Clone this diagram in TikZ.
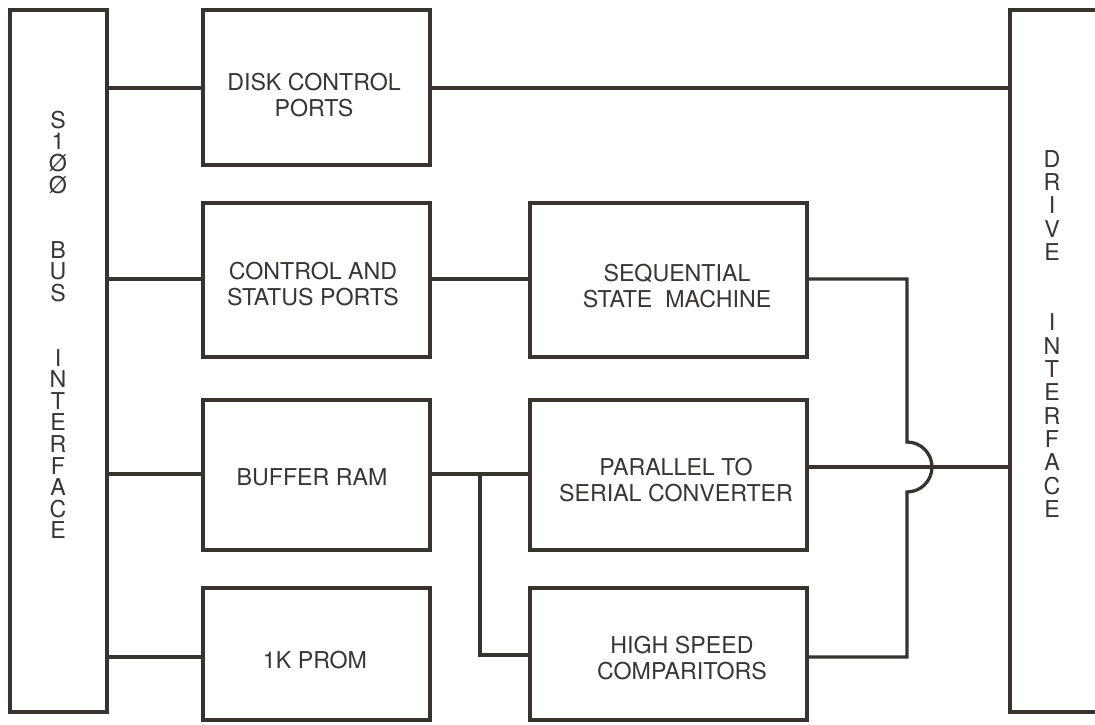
\documentclass[tikz,border=0pt]{standalone}
\usepackage{fontspec}
\setmainfont{TeX Gyre Heros}
\usetikzlibrary{fit}
\definecolor{ink}{HTML}{38332F}
\definecolor{txtc}{HTML}{3A3531}
\begin{document}
\begin{tikzpicture}[x=0.02cm,y=-0.02cm,
  blk/.style={draw=ink, line width=1.85pt, inner sep=0pt, outer sep=0pt},
  wire/.style={draw=ink, line width=1.85pt},
  txt/.style={text=txtc, align=center, inner sep=0pt, font=\fontsize{13.2}{15.3}\selectfont},
  vtxt/.style={text=txtc, align=center, inner sep=0pt}]
\clip (0,0) rectangle (1095,724);
\fill[white] (0,0) rectangle (1095,724);
% boxes
\node[blk, fit={(10,10) (107,712)}] (bus) {};
\node[blk, fit={(1010,10) (1140,712)}] (drive) {};
\node[blk, fit={(203,10) (430,165)}] (disk) {};
\node[blk, fit={(203,203) (430,357)}] (ctrl) {};
\node[blk, fit={(203,400) (430,550)}] (buf) {};
\node[blk, fit={(203,588) (430,720)}] (prom) {};
\node[blk, fit={(530,203) (807,357)}] (seq) {};
\node[blk, fit={(530,400) (807,550)}] (par) {};
\node[blk, fit={(530,588) (807,720)}] (hsc) {};
% texts
\node[vtxt, font=\fontsize{13.2}{12.3}\selectfont] (busT) at (58,325)
  {S\\1\\Ø\\Ø\\[24.6pt]B\\U\\S\\[24.6pt]I\\N\\T\\E\\R\\F\\A\\C\\E};
\node[vtxt, font=\fontsize{13.2}{13.3}\selectfont] (driveT) at (1052,334)
  {D\\R\\I\\V\\E\\[26.6pt]I\\N\\T\\E\\R\\F\\A\\C\\E};
\node[txt] (diskT) at (314,95) {DISK CONTROL\\PORTS};
\node[txt] (ctrlT) at (313,284) {CONTROL AND\\STATUS PORTS};
\node[txt] (bufT) at (312,477) {BUFFER RAM};
\node[txt] (promT) at (315,660) {1K PROM};
\node[txt] (seqT) at (677,286) {SEQUENTIAL\\STATE\ \ MACHINE};
\node[txt] (parT) at (676,480) {PARALLEL TO\\SERIAL CONVERTER};
\node[txt] (hscT) at (682,658) {HIGH SPEED\\COMPARITORS};
% helper coordinates
\coordinate (y1) at (0,88);
\coordinate (y2) at (0,279);
\coordinate (y3) at (0,474);
\coordinate (y4) at (0,657);
\coordinate (yP) at (0,467);
\coordinate (yH) at (0,655);
\coordinate (bx) at (480,0);
\coordinate (hopT) at (907,442);
% connectors
\draw[wire] (bus.east |- y1) -- (disk.west |- y1);
\draw[wire] (disk.east |- y1) -- (drive.west |- y1);
\draw[wire] (bus.east |- y2) -- (ctrl.west |- y2);
\draw[wire] (ctrl.east |- y2) -- (seq.west |- y2);
\draw[wire] (bus.east |- y3) -- (buf.west |- y3);
\draw[wire] (buf.east |- y3) -- (par.west |- y3);
\draw[wire] (bus.east |- y4) -- (prom.west |- y4);
\draw[wire] (par.east |- yP) -- (drive.west |- yP);
\draw[wire] (bx |- y3) -- (bx |- yH) -- (hsc.west |- yH);
\draw[wire] (seq.east |- y2) -| (hopT) arc[start angle=90, end angle=-90, radius=0.5cm]
  -- (hopT |- y4) -- (hsc.east |- y4);
\end{tikzpicture}
\end{document}
